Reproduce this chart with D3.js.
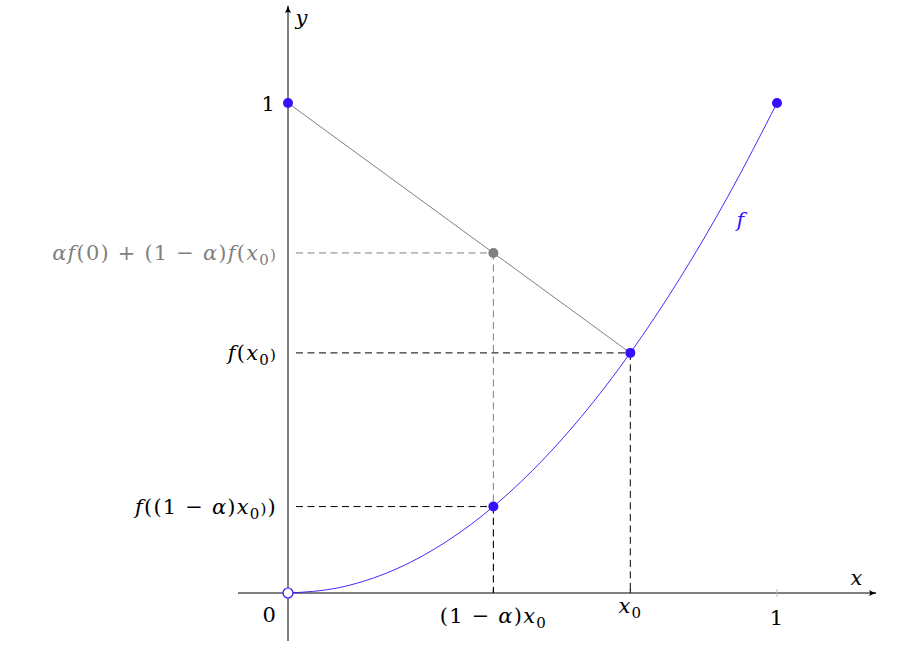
<!DOCTYPE html>
<html><head><meta charset="utf-8">
<script src="https://cdn.jsdelivr.net/npm/d3@7"></script>
<style>body{margin:0;background:#fff}svg{display:block}</style>
</head><body>
<script>
// Data
const curveX = [0, 0.1, 0.2, 0.3, 0.4, 0.5, 0.6, 0.7, 0.8, 0.9, 1.0];
const curveY = [0, 0.01, 0.04, 0.09, 0.16, 0.25, 0.36, 0.49, 0.64, 0.81, 1.0];
const x0 = 0.7, xa = 0.42;             // x0 and (1-α)x0
const fx0 = 0.49, fxa = 0.1764;        // f(x0), f((1-α)x0)
const chordY = 0.694;                  // αf(0)+(1-α)f(x0)
const blue = "#3311ff", gray = "#808080";
const FONT = "DejaVu Serif";

const W = 923, H = 654;
const svg = d3.select("body").append("svg").attr("width", W).attr("height", H);
const x = d3.scaleLinear().domain([0, 1]).range([288, 777]);
const y = d3.scaleLinear().domain([0, 1]).range([593, 103]);

const defs = svg.append("defs");
defs.append("marker").attr("id", "arr").attr("viewBox", "0 0 10 10").attr("refX", 9).attr("refY", 5)
  .attr("markerWidth", 8).attr("markerHeight", 8).attr("orient", "auto").attr("markerUnits", "userSpaceOnUse")
  .append("path").attr("d", "M0,1 Q5,4 10,5 Q5,6 0,9 Q3,5 0,1").attr("fill", "#000");

// dashed guides
const dash = "7,4.5";
const g = svg.append("g").attr("fill", "none").attr("stroke-width", 1).attr("stroke-dasharray", dash);
g.append("line").attr("x1", x(0) + 8).attr("x2", x(xa)).attr("y1", y(chordY)).attr("y2", y(chordY)).attr("stroke", gray);
g.append("line").attr("x1", x(xa)).attr("x2", x(xa)).attr("y1", y(chordY)).attr("y2", y(0)).attr("stroke", gray);
g.append("line").attr("x1", x(0) + 8).attr("x2", x(x0)).attr("y1", y(fx0)).attr("y2", y(fx0)).attr("stroke", "#000");
g.append("line").attr("x1", x(x0)).attr("x2", x(x0)).attr("y1", y(fx0)).attr("y2", y(0)).attr("stroke", "#000");
g.append("line").attr("x1", x(0) + 8).attr("x2", x(xa)).attr("y1", y(fxa)).attr("y2", y(fxa)).attr("stroke", "#000");
g.append("line").attr("x1", x(xa)).attr("x2", x(xa)).attr("y1", y(fxa)).attr("y2", y(0)).attr("stroke", "#000");

// axes
svg.append("line").attr("x1", 238).attr("x2", 876).attr("y1", y(0)).attr("y2", y(0))
  .attr("stroke", "#000").attr("stroke-width", 1).attr("marker-end", "url(#arr)");
svg.append("line").attr("x1", x(0)).attr("x2", x(0)).attr("y1", 641).attr("y2", 6)
  .attr("stroke", "#000").attr("stroke-width", 1).attr("marker-end", "url(#arr)");
// ticks
[xa, x0].forEach(v => svg.append("line").attr("x1", x(v)).attr("x2", x(v)).attr("y1", y(0)).attr("y2", y(0) - 4).attr("stroke", "#000"));
svg.append("line").attr("x1", x(1)).attr("x2", x(1)).attr("y1", y(0) - 4).attr("y2", y(0) + 4).attr("stroke", "#bbb");

// chord
svg.append("line").attr("x1", x(0)).attr("y1", y(1)).attr("x2", x(x0)).attr("y2", y(fx0))
  .attr("stroke", gray).attr("stroke-width", 1);

// curve
const line = d3.line().x(d => x(d[0])).y(d => y(d[1])).curve(d3.curveMonotoneX);
svg.append("path").datum(curveX.map((v, i) => [v, curveY[i]])).attr("d", line)
  .attr("fill", "none").attr("stroke", blue).attr("stroke-width", 0.9);

// points
const r = 5;
svg.append("circle").attr("cx", x(xa)).attr("cy", y(chordY)).attr("r", r).attr("fill", gray);
[[0, 1], [x0, fx0], [xa, fxa], [1, 1]].forEach(p =>
  svg.append("circle").attr("cx", x(p[0])).attr("cy", y(p[1])).attr("r", r).attr("fill", blue));
svg.append("circle").attr("cx", x(0)).attr("cy", y(0)).attr("r", r).attr("fill", "#fff").attr("stroke", blue).attr("stroke-width", 1.2);

// labels
function lab(px, py, anchor, parts, color) {
  const t = svg.append("text").attr("x", px).attr("y", py).attr("text-anchor", anchor)
    .attr("fill", color || "#000").attr("font-family", FONT).attr("font-size", 21).attr("letter-spacing", 1.2);
  parts.forEach(p => {
    const s = t.append("tspan").text(p[0]);
    if (p[1]) s.attr("font-style", "italic");
    if (p[2]) s.attr("font-size", 15).attr("dy", p[2]);
  });
  return t;
}
lab(276, 111, "end", [["1"]]);
lab(277, 622, "end", [["0"]]);
lab(x(1), 625, "middle", [["1"]]);
lab(277, 260, "end", [["α", 1], ["f", 1], ["(0) + (1 − "], ["α", 1], [")"], ["f", 1], ["("], ["x", 1], ["0", 0, 5], [")", 0, -5]], gray);
lab(277, 360, "end", [["f", 1], ["("], ["x", 1], ["0", 0, 5], [")", 0, -5]]);
lab(277, 514, "end", [["f", 1], ["("], ["(1 − "], ["α", 1], [")"], ["x", 1], ["0", 0, 5], [")", 0, -5], [")"]]);
lab(x(xa), 623, "middle", [["(1 − "], ["α", 1], [")"], ["x", 1], ["0", 0, 5]]);
lab(x(x0), 613, "middle", [["x", 1], ["0", 0, 5]]);
lab(741, 227, "middle", [["f", 1]], blue);
lab(302, 25, "middle", [["y", 1]]);
lab(857, 585, "middle", [["x", 1]]);
</script>
</body></html>
